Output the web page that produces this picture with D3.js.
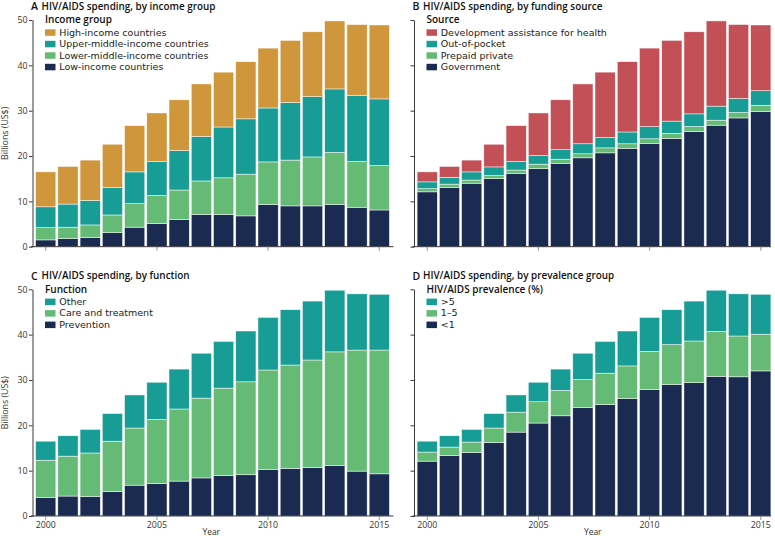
<!DOCTYPE html>
<html><head><meta charset="utf-8">
<script src="https://cdn.jsdelivr.net/npm/d3@7"></script>
<style>
body{margin:0;background:#fff;}
svg{display:block;font-family:"Open Sans",sans-serif;}
</style></head>
<body><svg id="chart" width="775" height="538"></svg>
<script>
const years = [2000,2001,2002,2003,2004,2005,2006,2007,2008,2009,2010,2011,2012,2013,2014,2015];
const xTickYears = [2000,2005,2010,2015];
const yTicks = [0,10,20,30,40,50];

// Panel A: income group
const incomeLow = [1.5,1.8,2.0,3.1,4.3,5.1,6.0,7.1,7.1,6.8,9.3,9.0,9.0,9.3,8.7,8.1];
const incomeLowerMiddle = [2.7,2.5,2.8,3.9,5.2,6.2,6.5,7.4,8.1,9.2,9.4,10.1,10.8,11.5,10.1,9.8];
const incomeUpperMiddle = [4.6,5.1,5.4,6.1,7.0,7.5,8.7,9.8,11.2,12.2,11.9,12.7,13.3,14.0,14.6,14.7];
const incomeHigh = [7.7,8.3,8.9,9.5,10.2,10.7,11.2,11.6,12.1,12.6,13.2,13.7,14.3,15.0,15.6,16.3];

// Panel B: funding source
const sourceGovernment = [12.1,13.1,14.0,15.0,16.1,17.2,18.4,19.6,20.7,21.7,22.8,23.9,25.4,26.8,28.4,29.8];
const sourcePrepaid = [0.7,0.7,0.7,0.7,0.8,1.0,0.9,0.9,1.1,1.0,1.0,1.1,1.1,1.1,1.2,1.4];
const sourceOOP = [1.5,1.5,1.8,1.9,1.9,1.9,2.1,2.2,2.3,2.6,2.7,2.7,2.8,3.1,3.1,3.2];
const sourceDAH = [2.2,2.4,2.6,5.0,7.9,9.4,11.0,13.2,14.4,15.5,17.3,17.8,18.1,18.8,16.3,14.5];

// Panel C: function
const funcPrevention = [4.1,4.4,4.3,5.4,6.8,7.2,7.7,8.4,8.9,9.1,10.3,10.5,10.7,11.1,9.9,9.3];
const funcCare = [8.2,8.8,9.6,11.1,12.6,14.1,15.9,17.6,19.3,20.5,21.9,22.8,23.7,25.1,26.7,27.3];
const funcOther = [4.2,4.5,5.2,6.1,7.3,8.2,8.8,9.9,10.3,11.2,11.6,12.2,13.0,13.6,12.4,12.3];

// Panel D: prevalence group
const prevLt1 = [12.1,13.3,14.0,16.2,18.5,20.5,22.1,23.9,24.6,25.9,27.9,29.0,29.4,30.8,30.7,32.0];
const prev1to5 = [2.0,1.9,2.3,3.2,4.4,4.7,5.6,6.2,6.9,7.2,8.4,8.8,9.2,9.9,9.0,8.1];
const prevGt5 = [2.4,2.5,2.8,3.2,3.8,4.3,4.7,5.8,7.0,7.7,7.5,7.7,8.8,9.1,9.3,8.8];

const C = {navy:"#1b2a50", green:"#65bb76", teal:"#189d96", orange:"#d0963b", red:"#c34f57"};

const panels = [
  {letter:"A", title:"HIV/AIDS spending, by income group", legendTitle:"Income group", dx:0, dy:0, yLabels:true, xLabels:false,
   series:[{name:"Low-income countries",v:incomeLow,c:C.navy},{name:"Lower-middle-income countries",v:incomeLowerMiddle,c:C.green},{name:"Upper-middle-income countries",v:incomeUpperMiddle,c:C.teal},{name:"High-income countries",v:incomeHigh,c:C.orange}]},
  {letter:"B", title:"HIV/AIDS spending, by funding source", legendTitle:"Source", dx:381.5, dy:0, yLabels:false, xLabels:false,
   series:[{name:"Government",v:sourceGovernment,c:C.navy},{name:"Prepaid private",v:sourcePrepaid,c:C.green},{name:"Out-of-pocket",v:sourceOOP,c:C.teal},{name:"Development assistance for health",v:sourceDAH,c:C.red}]},
  {letter:"C", title:"HIV/AIDS spending, by function", legendTitle:"Function", dx:0, dy:269.3, yLabels:true, xLabels:true,
   series:[{name:"Prevention",v:funcPrevention,c:C.navy},{name:"Care and treatment",v:funcCare,c:C.green},{name:"Other",v:funcOther,c:C.teal}]},
  {letter:"D", title:"HIV/AIDS spending, by prevalence group", legendTitle:"HIV/AIDS prevalence (%)", dx:381.5, dy:269.3, yLabels:false, xLabels:true,
   series:[{name:"<1",v:prevLt1,c:C.navy},{name:"1–5",v:prev1to5,c:C.green},{name:">5",v:prevGt5,c:C.teal}]}
];

const svg = d3.select("#chart");
const FF = "'Open Sans', sans-serif";
const FL = "'DejaVu Sans', sans-serif";

panels.forEach(p => {
  const g = svg.append("g").attr("transform", `translate(${p.dx},${p.dy})`);
  const x = d3.scaleBand().domain(years).range([34.6, 390.4]).paddingInner(0.09).paddingOuter(0.045);
  const y = d3.scaleLinear().domain([0,50]).range([246.7, 20]);
  const axisX = 32.5;

  const keys = p.series.map((s,i)=>i);
  const rows = years.map((yr,j)=>{const o={year:yr}; p.series.forEach((s,i)=>o[i]=s.v[j]); return o;});
  const stacked = d3.stack().keys(keys)(rows);

  g.append("g").selectAll("g").data(stacked).join("g")
    .attr("fill",(d,i)=>p.series[i].c)
    .selectAll("rect").data(d=>d).join("rect")
    .attr("x",d=>x(d.data.year))
    .attr("width",x.bandwidth())
    .attr("y",d=>y(d[1]))
    .attr("height",d=>y(d[0])-y(d[1]))
    .attr("stroke","#ffffff").attr("stroke-width",0.6).attr("stroke-opacity",0.8);

  // y axis
  const ya = g.append("g").attr("transform",`translate(${axisX},0)`)
    .call(d3.axisLeft(y).tickValues(yTicks).tickSize(3.5).tickSizeOuter(0).tickPadding(1.5).tickFormat(p.yLabels? d3.format("d") : ""));
  ya.select(".domain").attr("stroke","#222").attr("stroke-width",0.9);
  ya.selectAll(".tick line").attr("stroke","#222").attr("stroke-width",0.9);
  ya.selectAll("text").attr("font-size",8.8).attr("fill","#333").attr("font-family",FF);

  // x axis
  const xEnd = Math.min(393.5, 771 - p.dx);
  g.append("line").attr("x1",axisX-1.5).attr("x2",xEnd).attr("y1",246.7).attr("y2",246.7).attr("stroke","#222").attr("stroke-width",0.9);
  const xa = g.append("g").attr("transform","translate(0,246.7)")
    .call(d3.axisBottom(x).tickValues(xTickYears).tickSize(4).tickSizeOuter(0).tickPadding(2).tickFormat(p.xLabels? d3.format("d") : ""));
  xa.select(".domain").remove();
  xa.selectAll(".tick line").attr("stroke","#888").attr("stroke-width",0.9);
  xa.selectAll("text").attr("font-size",8.8).attr("fill","#333").attr("font-family",FF);

  if (p.xLabels) {
    g.append("text").attr("x",(axisX+390)/2).attr("y",265.8).attr("text-anchor","middle")
      .attr("font-size",8.5).attr("fill","#333").text("Year");
  }
  if (p.yLabels) {
    g.append("text").attr("transform",`translate(8,${(246.7+20)/2}) rotate(-90)`).attr("text-anchor","middle")
      .attr("font-size",8.8).attr("fill","#333").text("Billions (US$)");
  }

  // title
  g.append("text").attr("x",31).attr("y",10.3).attr("font-size",10.5).attr("font-weight",600).attr("fill","#111").text(p.letter);
  g.append("text").attr("x",41.5).attr("y",9.5).attr("font-size",9.9).attr("font-weight",600).attr("fill","#111").text(p.title);

  // legend
  const lg = g.append("g").attr("transform","translate(45,0)");
  lg.append("text").attr("x",0).attr("y",23.3).attr("font-size",10).attr("font-weight",600).attr("fill","#111").text(p.legendTitle);
  const items = p.series.slice().reverse();
  items.forEach((s,i)=>{
    const cy = 32.3 + i*11.5;
    lg.append("rect").attr("x",0).attr("y",cy-3).attr("width",10.5).attr("height",6.5).attr("fill",s.c);
    lg.append("text").attr("x",14.3).attr("y",cy+3.3).attr("font-size",9.5).attr("fill","#222").attr("font-family",FL).text(s.name);
  });
});
</script></body></html>
